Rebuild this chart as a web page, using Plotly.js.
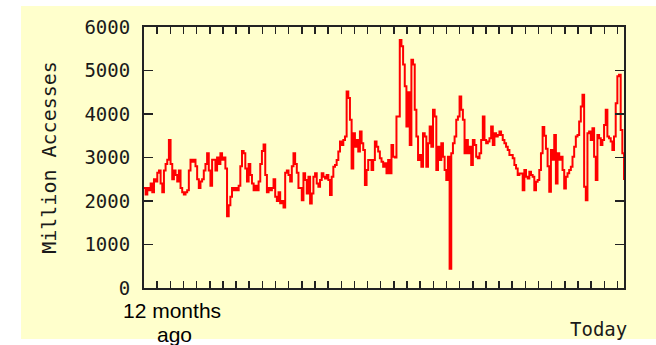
<!DOCTYPE html>
<html>
<head>
<meta charset="utf-8">
<script src="https://cdn.plot.ly/plotly-3.0.1.min.js"></script>
<style>html,body{margin:0;padding:0;background:#fff;}#chart{width:656px;height:345px;}</style>
</head>
<body>
<div id="chart"></div>
<script>
// Daily accesses (millions), sampled evenly from "12 months ago" to "Today"
const accesses = [
 2300,2150,2300,2250,2400,2200,2500,2450,2650,2700,
 2400,2200,2700,2850,2950,3400,2850,2500,2700,2600,
 2450,2700,2300,2200,2150,2200,2250,2700,2950,2900,
 2950,2800,2500,2300,2450,2500,2700,2850,3100,2700,
 2350,2950,
 2950,2700,3000,2850,3100,2950,3000,2750,1650,1900,
 2100,2300,2250,2300,2250,2350,2800,3150,3100,2750,
 2450,2850,2600,2400,2250,2350,2250,2450,2850,3150,
 3300,2600,2200,2300,2250,2300,2500,2100,2000,2200,
 1950,
 2000,1850,2650,2700,2600,2450,2800,3100,2850,2650,2300,
 2300,2020,2640,2480,2170,2560,1940,2170,2560,2640,
 2400,2330,2480,2640,2560,2520,2600,2480,2140,2560,
 2790,2830,2940,3140,3370,3290,3400,3480,4520,4370,
 3870,2750,3560,3250,3400,3140,3600,3330,3170,2370,
 2710,2940,2940,2710,2940,3370,3250,3140,2980,2900,
 2790,2870,2640,2940,2640,3290,3020,3000,3940,3940,
 5700,5560,5140,4640,3710,4500,3290,5250,5140,4100,
 3480,2940,3060,2790,3560,3480,2790,3330,3710,3250,
 4100,3940,2710,3250,2940,3330,3020,2710,2480,3020,
 440,3100,3330,3480,3870,3940,4400,4100,3870,3100,
 3400,3100,
 3250,2830,3400,3290,3020,2980,3100,3400,3940,3400,
 3330,3370,3440,3710,3290,3560,3480,3520,3600,3520,
 3400,3330,3250,3170,3060,3060,2980,2830,2750,2600,
 2630,2630,2250,2710,2560,2520,2670,2600,2560,2250,
 2440,2480,2710,3100,3700,3500,3200,2800,2210,3170,
 2950,3520,2400,3100,2950,3020,2710,2290,2560,2640,
 2710,2790,3020,3250,3480,3520,3830,4170,4440,2330,
 2020,3560,3600,3400,3670,3020,2480,3520,3440,3290,
 3400,3750,4100,3480,3440,3370,3170,3480,4250,4870,
 4900,3630,3100,2480
];
const periodDays = 365;
const yTicks = [0, 1000, 2000, 3000, 4000, 5000, 6000];
const yTickLabels = ["0", "1000", "2000", "3000", "4000", "5000", "6000"];
const yTitle = "Million Accesses";
const startLabel = ["12 months", "ago"];
const endLabel = "Today";

const days = accesses.map((v, i) => i * periodDays / (accesses.length - 1));

const pixFont = {family: "DejaVu Sans Mono", size: 19, color: "#1a1a1a"};
const ink = "#222222";

const trace = {
  x: days, y: accesses, type: "scatter", mode: "lines",
  line: {color: "#ff0000", width: 2, shape: "hv"},
  hoverinfo: "skip"
};

const layout = {
  width: 656, height: 345,
  margin: {l: 144, r: 32, t: 27, b: 57, pad: 0},
  paper_bgcolor: "#ffffff",
  plot_bgcolor: "#ffffcc",
  showlegend: false,
  xaxis: {
    range: [0, periodDays], tick0: 0, dtick: 10, ticks: "inside", ticklen: 7,
    tickwidth: 1.5, tickcolor: ink, showticklabels: false, mirror: "ticks",
    showline: true, linecolor: ink, linewidth: 2, showgrid: false, zeroline: false,
    fixedrange: true
  },
  yaxis: {
    range: [0, 6000], tickmode: "array", tickvals: yTicks, ticktext: yTickLabels,
    ticks: "inside", ticklen: 9, tickwidth: 1.5, tickcolor: ink, mirror: "ticks",
    showline: true, linecolor: ink, linewidth: 2, showgrid: false, zeroline: false,
    tickfont: pixFont, ticklabelstandoff: 8,
    title: {text: yTitle, font: {family: "DejaVu Sans Mono", size: 20, color: "#1a1a1a"}, standoff: 22},
    fixedrange: true
  },
  shapes: [{
    type: "rect", xref: "paper", yref: "paper", layer: "below",
    x0: -0.25625, x1: 1.0667, y0: -0.1954, y1: 1.0805,
    fillcolor: "#ffffcc", line: {width: 0}
  }],
  annotations: [
    {xref: "paper", yref: "paper", x: 0.0583, y: -0.088, xanchor: "center", yanchor: "middle",
     text: startLabel[0], showarrow: false,
     font: {family: "Liberation Sans, Arial, sans-serif", size: 21, color: "#000000"}},
    {xref: "paper", yref: "paper", x: 0.0625, y: -0.180, xanchor: "center", yanchor: "middle",
     text: startLabel[1], showarrow: false,
     font: {family: "Liberation Sans, Arial, sans-serif", size: 21, color: "#000000"}},
    {xref: "paper", yref: "paper", x: 1.0104, y: -0.159, xanchor: "right", yanchor: "middle",
     text: endLabel, showarrow: false, font: pixFont}
  ]
};

Plotly.newPlot("chart", [trace], layout, {displayModeBar: false, staticPlot: true});
</script>
</body>
</html>
